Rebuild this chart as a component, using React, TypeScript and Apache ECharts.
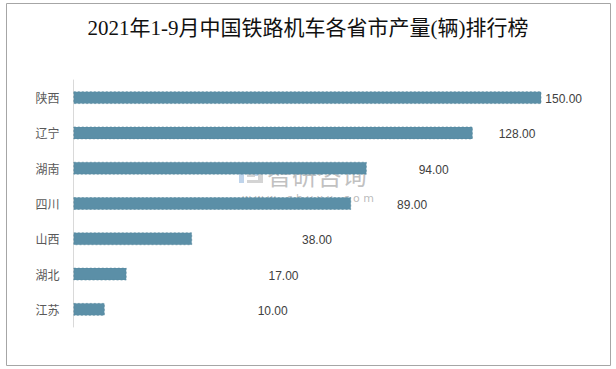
import React, { useEffect, useRef } from "react";
import * as echarts from "echarts";

const titleText = "2021年1-9月中国铁路机车各省市产量(辆)排行榜";
const provinces = ["陕西", "辽宁", "湖南", "四川", "山西", "湖北", "江苏"];
const output = [150, 128, 94, 89, 38, 17, 10];
// manual label shifts (px) as placed in the source chart
const labelShift = [4, 26, 52, 46, 110, 142, 153];

export default function App() {
  const ref = useRef<HTMLDivElement>(null);
  useEffect(() => {
    if (!ref.current) return;
    const chart = echarts.init(ref.current, null, { renderer: "svg" });
    chart.setOption({
      animation: false,
      backgroundColor: "#ffffff",
      title: {
        text: titleText,
        left: "center",
        top: 12,
        textStyle: {
          fontFamily: "'Liberation Serif', 'Noto Sans CJK SC', serif",
          fontSize: 21,
          fontWeight: "normal",
          color: "#111111",
        },
      },
      grid: { left: 73.5, right: 43.5, top: 80, bottom: 42 },
      xAxis: {
        type: "value",
        min: 0,
        max: 160,
        show: false,
      },
      yAxis: {
        type: "category",
        data: provinces,
        inverse: true,
        axisLine: { show: true, lineStyle: { color: "#d9d9d9", width: 1 } },
        axisTick: { show: false },
        axisLabel: {
          color: "#595959",
          fontSize: 12,
          margin: 14,
          fontFamily: "'Noto Sans CJK SC', sans-serif",
        },
        splitLine: { show: false },
      },
      series: [
        {
          type: "bar",
          barWidth: 12.5,
          data: output.map((v, i) => ({
            value: v,
            label: { offset: [labelShift[i], 1.5] },
          })),
          itemStyle: {
            color: "#5b8fa7",
            borderColor: "#52849b",
            borderWidth: 0.6,
            borderType: [2, 2],
          },
          label: {
            show: true,
            position: "right",
            distance: 0,
            formatter: (p: any) => Number(p.value).toFixed(2),
            color: "#404040",
            fontSize: 12,
            fontFamily: "'Liberation Sans', Arial, sans-serif",
          },
        },
      ],
      graphic: [
        {
          type: "rect",
          shape: { x: 6.5, y: 3.5, width: 604, height: 362 },
          style: { fill: "none", stroke: "#a6a6a6", lineWidth: 1 },
          silent: true,
          z: 200,
        },
        {
          type: "group",
          z: 150,
          silent: true,
          children: [
            { type: "rect", shape: { x: 239, y: 166, width: 5, height: 17 }, style: { fill: "rgba(180,204,232,0.85)" } },
            { type: "rect", shape: { x: 244, y: 166, width: 14, height: 4 }, style: { fill: "rgba(180,204,232,0.85)" } },
            { type: "rect", shape: { x: 254, y: 170, width: 4, height: 6 }, style: { fill: "rgba(180,204,232,0.85)" } },
            { type: "rect", shape: { x: 247, y: 174, width: 8, height: 3 }, style: { fill: "rgba(205,205,205,0.85)" } },
            { type: "rect", shape: { x: 258, y: 166, width: 5, height: 17 }, style: { fill: "rgba(205,205,205,0.85)" } },
            { type: "rect", shape: { x: 247, y: 180, width: 11, height: 3 }, style: { fill: "rgba(205,205,205,0.85)" } },
            {
              type: "text",
              x: 267,
              y: 174,
              style: {
                text: "智研咨询",
                fontSize: 25,
                fontFamily: "'Noto Sans CJK SC', sans-serif",
                fill: "rgba(185,185,185,0.88)",
                verticalAlign: "middle",
                align: "left",
              },
            },
            {
              type: "text",
              x: 308,
              y: 198,
              style: {
                text: "w w w . c h y x x . c o m",
                fontSize: 11,
                fontFamily: "'DejaVu Sans', sans-serif",
                fill: "rgba(175,175,175,0.85)",
                verticalAlign: "middle",
                align: "center",
              },
            },
          ],
        },
      ],
    });
    return () => chart.dispose();
  }, []);
  return (
    <div
      ref={ref}
      style={{ position: "fixed", left: 0, top: 0, width: 616, height: 369 }}
    />
  );
}
